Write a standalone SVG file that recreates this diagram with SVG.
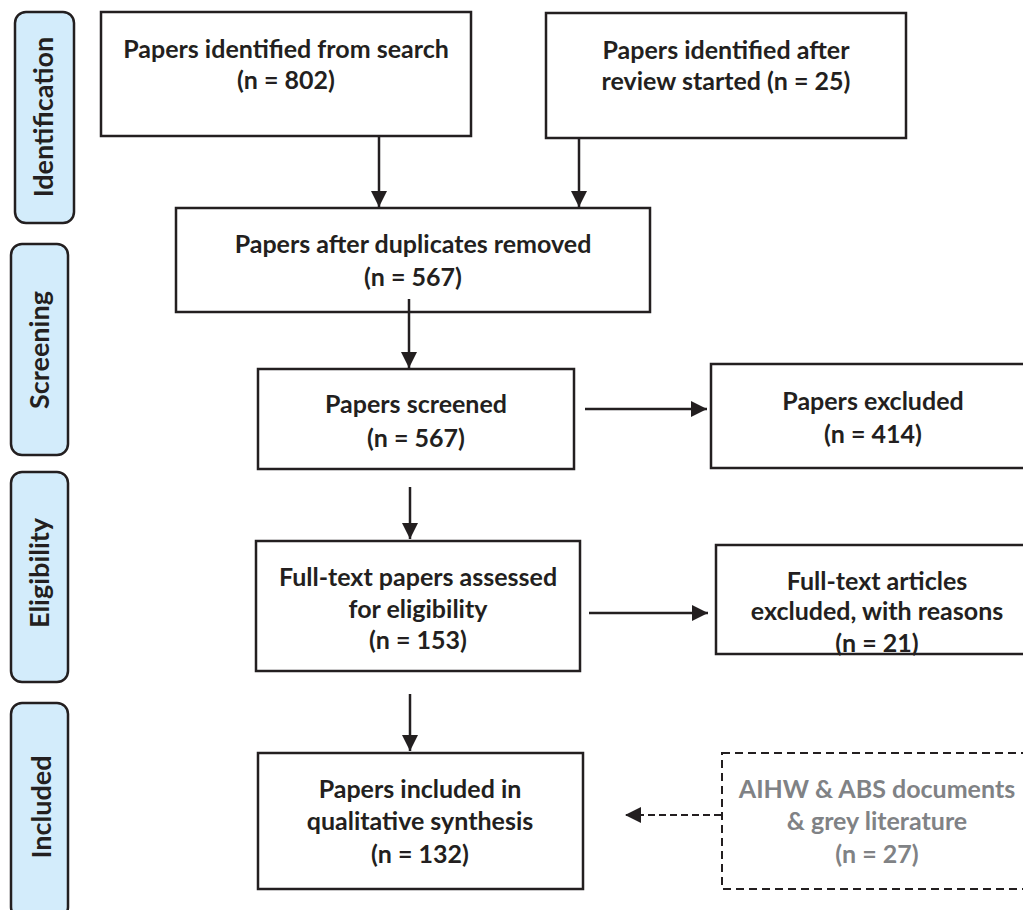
<svg xmlns="http://www.w3.org/2000/svg" width="1023" height="910" viewBox="0 0 1023 910">
<style>
.box{fill:#fff;stroke:#231f20;stroke-width:2.5}
.dbox{fill:#fff;stroke:#231f20;stroke-width:2;stroke-dasharray:8 5}
.side{fill:#d3ecfb;stroke:#231f20;stroke-width:2.5}
.t{font-family:Lato,"Liberation Sans",sans-serif;font-weight:bold;font-size:25px;fill:#231f20;text-anchor:middle}
.g{fill:#808285}
.s{font-family:Lato,"Liberation Sans",sans-serif;font-weight:bold;font-size:27px;fill:#231f20;text-anchor:middle}
.ln{stroke:#231f20;stroke-width:2.5;fill:none}
.dl{stroke:#231f20;stroke-width:2;fill:none;stroke-dasharray:7 4}
</style>
<defs>
<marker id="ah" markerUnits="userSpaceOnUse" markerWidth="16" markerHeight="16" viewBox="0 0 14 14" refX="14" refY="7" orient="auto">
<path d="M0,0 L14,7 L0,14 Z" fill="#231f20"/>
</marker>
</defs>
<rect width="1023" height="910" fill="#fff"/>
<g id="stage-identification"><rect class="side" x="15" y="12" width="59" height="211" rx="11"/><text class="s" transform="translate(53,117) rotate(-90)">Identification</text></g>
<g id="stage-screening"><rect class="side" x="11" y="244" width="57" height="211" rx="11"/><text class="s" transform="translate(49,350) rotate(-90)">Screening</text></g>
<g id="stage-eligibility"><rect class="side" x="11" y="472" width="57" height="210" rx="11"/><text class="s" transform="translate(49,573) rotate(-90)">Eligibility</text></g>
<g id="stage-included"><rect class="side" x="11" y="703" width="57" height="215" rx="11"/><text class="s" transform="translate(51,807) rotate(-90)">Included</text></g>
<g id="connectors">
<line class="ln" x1="379" y1="137" x2="379" y2="207" marker-end="url(#ah)"/>
<line class="ln" x1="579" y1="139" x2="579" y2="207" marker-end="url(#ah)"/>
<line class="ln" x1="409" y1="299" x2="409" y2="368" marker-end="url(#ah)"/>
<line class="ln" x1="585" y1="409" x2="707" y2="409" marker-end="url(#ah)"/>
<line class="ln" x1="410" y1="487" x2="410" y2="539" marker-end="url(#ah)"/>
<line class="ln" x1="589" y1="613" x2="708" y2="613" marker-end="url(#ah)"/>
<line class="ln" x1="410" y1="694" x2="410" y2="751" marker-end="url(#ah)"/>
<line class="dl" x1="721" y1="815" x2="625" y2="815" marker-end="url(#ah)"/>
</g>
<g id="n1"><rect class="box" x="101" y="12" width="370" height="124"/><text class="t" x="286" y="58">Papers identified from search</text><text class="t" x="286" y="89">(n = 802)</text></g>
<g id="n2"><rect class="box" x="546" y="13" width="360" height="125"/><text class="t" x="726" y="59">Papers identified after</text><text class="t" x="726" y="90">review started (n = 25)</text></g>
<g id="n3"><rect class="box" x="176" y="208" width="474" height="104" fill-opacity="0"/><text class="t" x="413" y="253">Papers after duplicates removed</text><text class="t" x="413" y="286">(n = 567)</text></g>
<g id="n4"><rect class="box" x="258" y="369" width="316" height="100"/><text class="t" x="416" y="413">Papers screened</text><text class="t" x="416" y="447">(n = 567)</text></g>
<g id="n5"><rect class="box" x="711" y="364" width="330" height="104"/><text class="t" x="873" y="410">Papers excluded</text><text class="t" x="873" y="443">(n = 414)</text></g>
<g id="n6"><rect class="box" x="256" y="541" width="324" height="130"/><text class="t" x="418" y="586">Full-text papers assessed</text><text class="t" x="418" y="618">for eligibility</text><text class="t" x="418" y="649">(n = 153)</text></g>
<g id="n7"><text class="t" x="877" y="590">Full-text articles</text><text class="t" x="877" y="620">excluded, with reasons</text><text class="t" x="877" y="652">(n = 21)</text><rect x="716" y="545" width="320" height="109" fill="none" stroke="#231f20" stroke-width="2.5"/></g>
<g id="n8"><rect class="box" x="258" y="753" width="325" height="136"/><text class="t" x="420" y="798">Papers included in</text><text class="t" x="420" y="830">qualitative synthesis</text><text class="t" x="420" y="863">(n = 132)</text></g>
<g id="n9"><rect class="dbox" x="722" y="753" width="320" height="136"/><text class="t g" x="877" y="798">AIHW &amp; ABS documents</text><text class="t g" x="877" y="830">&amp; grey literature</text><text class="t g" x="877" y="863">(n = 27)</text></g>
</svg>
